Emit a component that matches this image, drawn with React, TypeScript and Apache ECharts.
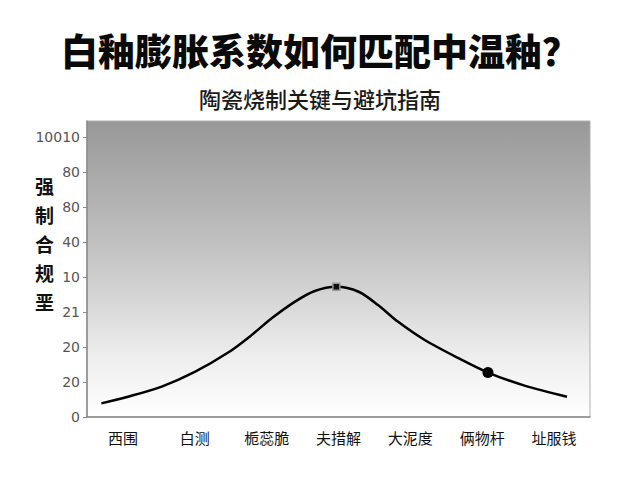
import { useEffect, useRef } from 'react';
import * as echarts from 'echarts';

const categories = ['西围', '白测', '栀蕊脆', '夫措解', '大泥度', '俩物杆', '址服钱'];
const yTickLabels = ['0', '20', '20', '21', '10', '40', '80', '80', '10010'];
// curve samples on a hidden 0..7 x scale (category i centre = i + 0.5)
const curveX = [0.2, 0.57, 1.04, 1.5, 1.97, 2.29, 2.57, 2.89, 3.17, 3.47, 3.78, 4.05, 4.33, 4.7, 5.17, 5.58, 6.1, 6.68];
const curveY = [0.39, 0.58, 0.87, 1.29, 1.85, 2.34, 2.82, 3.29, 3.6, 3.72, 3.58, 3.2, 2.72, 2.2, 1.68, 1.27, 0.89, 0.58];
const peakIndex = 9;
const dotIndex = 15;

export default function App() {
  const chartRef = useRef<HTMLDivElement>(null);

  useEffect(() => {
    if (!chartRef.current) return;
    const chart = echarts.init(chartRef.current, undefined, { renderer: 'svg' });

    const points = curveX.map((x, i) => {
      if (i === peakIndex) {
        return {
          value: [x, curveY[i]],
          symbol: 'rect',
          symbolSize: 7,
          itemStyle: { color: '#111', borderColor: '#999', borderWidth: 1.5 },
        };
      }
      if (i === dotIndex) {
        return {
          value: [x, curveY[i]],
          symbol: 'circle',
          symbolSize: 11,
          itemStyle: { color: '#000' },
        };
      }
      return { value: [x, curveY[i]], symbol: 'none' };
    });

    chart.setOption({
      animation: false,
      backgroundColor: '#fff',
      title: [
        {
          text: '白釉膨胀系数如何匹配中温釉？',
          left: 'center',
          top: 26,
          textStyle: {
            fontFamily: 'Noto Sans CJK SC',
            fontSize: 37,
            fontWeight: 900,
            color: '#0a0a0a',
          },
        },
        {
          text: '陶瓷烧制关键与避坑指南',
          left: 'center',
          top: 82,
          textStyle: {
            fontFamily: 'Noto Sans CJK SC',
            fontSize: 22,
            fontWeight: 500,
            color: '#1a1a1a',
          },
        },
      ],
      graphic: [
        {
          type: 'text',
          left: 35,
          top: 171,
          style: {
            text: '强\n制\n合\n规\n垩',
            font: 'bold 19px "Noto Sans CJK SC"',
            lineHeight: 29,
            fill: '#111',
          },
        },
      ],
      grid: {
        left: 87,
        right: 50,
        top: 121,
        bottom: 63,
        show: true,
        borderColor: '#b0b0b0',
        borderWidth: 1,
        backgroundColor: new echarts.graphic.LinearGradient(0, 0, 0, 1, [
          { offset: 0, color: '#989898' },
          { offset: 0.45, color: '#c4c4c4' },
          { offset: 0.8, color: '#eeeeee' },
          { offset: 1, color: '#ffffff' },
        ]),
      },
      xAxis: [
        {
          type: 'category',
          data: categories,
          boundaryGap: true,
          axisLine: { lineStyle: { color: '#8a8a8a', width: 1.5 } },
          axisTick: { show: false },
          axisLabel: {
            color: '#111',
            fontSize: 15,
            margin: 13,
            fontFamily: 'Noto Sans CJK SC',
          },
        },
        {
          type: 'value',
          min: 0,
          max: 7,
          show: false,
        },
      ],
      yAxis: {
        type: 'value',
        min: 0,
        max: 8.46,
        interval: 1,
        splitLine: { show: false },
        axisLine: { show: true, lineStyle: { color: '#8a8a8a', width: 1.5 } },
        axisTick: {
          show: true,
          length: 4,
          lineStyle: { color: '#8a8a8a' },
          customValues: [0, 1, 2, 3, 4, 5, 6, 7, 8],
        },
        axisLabel: {
          color: '#555',
          fontSize: 14,
          margin: 7,
          fontFamily: 'DejaVu Sans',
          customValues: [0, 1, 2, 3, 4, 5, 6, 7, 8],
          formatter: (v: number) => yTickLabels[Math.round(v)] ?? '',
        },
      },
      series: [
        {
          type: 'line',
          xAxisIndex: 1,
          data: points,
          smooth: 0.3,
          lineStyle: { color: '#000', width: 2.5 },
          itemStyle: { color: '#000' },
          showSymbol: true,
        },
      ],
    });

    return () => chart.dispose();
  }, []);

  return (
    <div
      ref={chartRef}
      style={{ position: 'fixed', left: 0, top: 0, width: 640, height: 480 }}
    />
  );
}
